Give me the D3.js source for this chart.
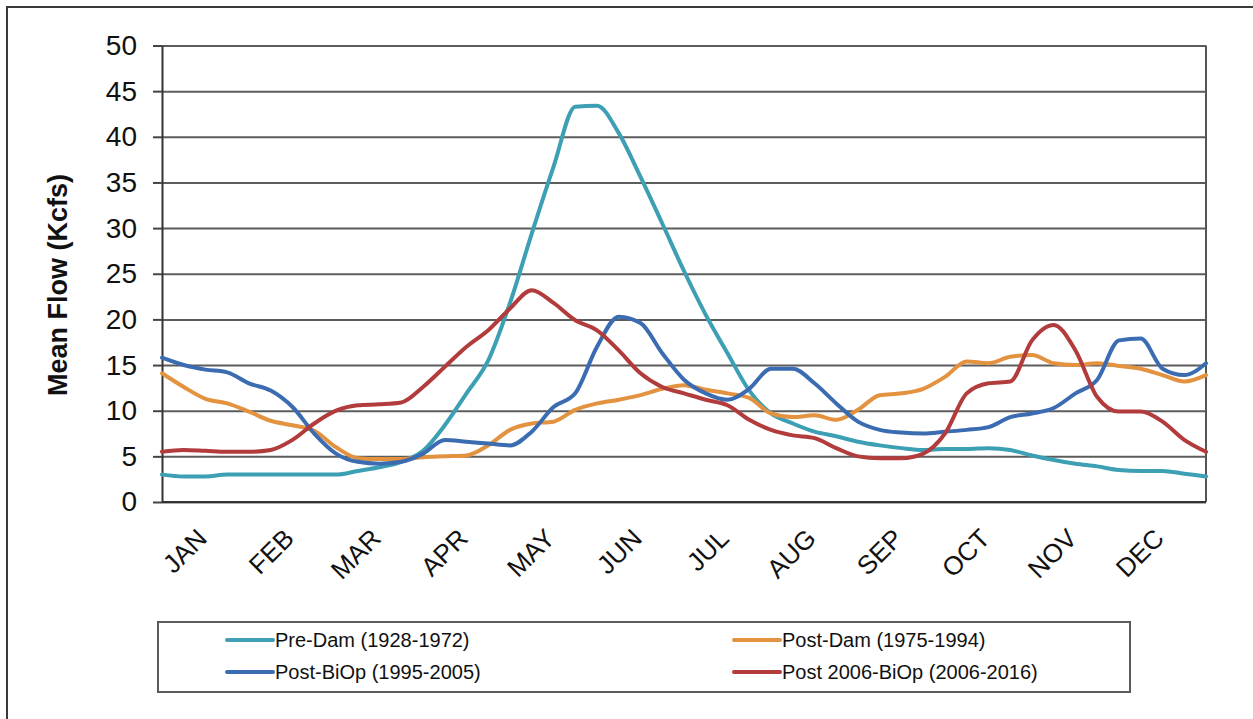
<!DOCTYPE html>
<html>
<head>
<meta charset="utf-8">
<script src="https://cdn.jsdelivr.net/npm/d3@7"></script>
<style>
  html, body { margin: 0; padding: 0; background: #fff; }
  svg { display: block; font-family: "Liberation Sans", Arial, sans-serif; }
</style>
</head>
<body>
<div id="chart"></div>
<script>
// ── Data (x in months from 1 Jan, step 0.25) ──
const monthPos = d3.range(0, 12.001, 0.25);
const monthLabels = ['JAN','FEB','MAR','APR','MAY','JUN','JUL','AUG','SEP','OCT','NOV','DEC'];
const yTicks = [0, 5, 10, 15, 20, 25, 30, 35, 40, 45, 50];

const preDam = [3.0, 2.8, 2.8, 3.0, 3.0, 3.0, 3.0, 3.0, 3.0, 3.4, 3.8, 4.4, 5.6, 8.4, 11.9, 15.5,
  21.8, 29.4, 36.7, 43.3, 43.4, 40.4, 35.6, 30.5, 25.3, 20.5, 16.3, 12.2, 9.7, 8.6, 7.7, 7.2,
  6.6, 6.2, 5.9, 5.7, 5.8, 5.8, 5.9, 5.7, 5.1, 4.6, 4.2, 3.9, 3.5, 3.4, 3.4, 3.1, 2.8];
const postDam = [14.1, 12.6, 11.3, 10.8, 9.9, 8.9, 8.4, 7.8, 6.0, 4.8, 4.7, 4.7, 4.9, 5.0, 5.1, 6.2,
  7.9, 8.6, 8.8, 10.1, 10.8, 11.2, 11.7, 12.4, 12.8, 12.3, 11.9, 11.4, 9.7, 9.3, 9.5, 9.0,
  10.1, 11.7, 11.9, 12.4, 13.7, 15.4, 15.2, 15.9, 16.1, 15.2, 15.0, 15.2, 14.9, 14.6, 13.9, 13.2, 13.9];
const postBiOp = [15.8, 15.0, 14.5, 14.2, 13.0, 12.2, 10.4, 7.5, 5.3, 4.4, 4.2, 4.4, 5.3, 6.8, 6.6, 6.4,
  6.2, 7.7, 10.4, 11.9, 17.0, 20.3, 19.6, 16.3, 13.4, 11.9, 11.2, 12.4, 14.6, 14.6, 13.0, 10.8,
  8.8, 7.9, 7.6, 7.5, 7.7, 7.9, 8.2, 9.3, 9.7, 10.3, 11.9, 13.4, 17.7, 17.9, 14.6, 13.9, 15.2];
const post2006 = [5.5, 5.7, 5.6, 5.5, 5.5, 5.7, 6.8, 8.6, 10.0, 10.6, 10.7, 10.9, 12.6, 14.8, 17.0, 18.8,
  21.2, 23.2, 21.8, 19.9, 18.8, 16.6, 14.1, 12.6, 11.9, 11.2, 10.6, 9.0, 7.9, 7.3, 7.0, 5.9,
  5.0, 4.8, 4.8, 5.3, 7.5, 11.9, 13.0, 13.2, 17.7, 19.4, 16.6, 11.5, 9.9, 9.9, 8.8, 6.8, 5.5];

const seriesNames = ['Pre-Dam (1928-1972)', 'Post-Dam (1975-1994)', 'Post-BiOp (1995-2005)', 'Post 2006-BiOp (2006-2016)'];
const seriesValues = [preDam, postDam, postBiOp, post2006];
const seriesColors = ['#3d9fb3', '#e3923f', '#3b6cb2', '#b23b3c'];

// ── Layout ──
const W = 1253, H = 719;
const plot = { left: 162, right: 1206, top: 45.5, bottom: 502 };

const svg = d3.select('#chart').append('svg').attr('width', W).attr('height', H);

// outer frame (only top and left edges are visible in the crop)
svg.append('path').attr('d', `M7,${H} L7,7 L${W},7`)
  .attr('fill', 'none').attr('stroke', '#3a3a3a').attr('stroke-width', 2);

const x = d3.scaleLinear().domain([0, 12]).range([plot.left, plot.right]);
const y = d3.scaleLinear().domain([0, 50]).range([plot.bottom, plot.top]);

// grid lines + left ticks
const gridAxis = svg.append('g').attr('transform', `translate(${plot.left},0)`)
  .call(d3.axisLeft(y).tickValues(yTicks).tickSizeInner(-(plot.right - plot.left)).tickSizeOuter(0).tickFormat(''));
gridAxis.select('.domain').remove();
gridAxis.selectAll('line').attr('stroke', '#5c5c5c').attr('stroke-width', 2);

const yAxis = svg.append('g').attr('transform', `translate(${plot.left},0)`)
  .call(d3.axisLeft(y).tickValues(yTicks).tickSizeInner(9).tickSizeOuter(0).tickPadding(16));
yAxis.select('.domain').attr('stroke', '#333').attr('stroke-width', 2);
yAxis.selectAll('line').attr('stroke', '#444').attr('stroke-width', 2);
yAxis.selectAll('text').attr('font-size', '28px').attr('fill', '#111')
  .attr('font-family', '"Liberation Sans", Arial, sans-serif');

// right border and bottom axis
svg.append('line').attr('x1', plot.right).attr('x2', plot.right)
  .attr('y1', y(50)).attr('y2', y(0)).attr('stroke', '#555').attr('stroke-width', 2);
svg.append('line').attr('x1', plot.left).attr('x2', plot.right)
  .attr('y1', y(0)).attr('y2', y(0)).attr('stroke', '#333').attr('stroke-width', 2);

// month labels, rotated
svg.append('g').selectAll('text').data(monthLabels).join('text')
  .attr('transform', (d, i) => `translate(${x(i + 0.5) + 3},540) rotate(-45)`)
  .attr('text-anchor', 'end')
  .attr('font-size', '26px').attr('fill', '#111')
  .text(d => d);

// y title
svg.append('text')
  .attr('transform', 'translate(67,285) rotate(-90)')
  .attr('text-anchor', 'middle')
  .attr('font-size', '27px').attr('font-weight', 'bold').attr('fill', '#111')
  .text('Mean Flow (Kcfs)');

// ── Lines ──
const line = d3.line()
  .x((d, i) => x(monthPos[i]))
  .y(d => y(d))
  .curve(d3.curveMonotoneX);

svg.append('g').selectAll('path').data(seriesValues).join('path')
  .attr('d', d => line(d))
  .attr('fill', 'none')
  .attr('stroke', (d, i) => seriesColors[i])
  .attr('stroke-width', 4)
  .attr('stroke-linejoin', 'round')
  .attr('stroke-linecap', 'round');

// ── Legend ──
const legend = svg.append('g');
legend.append('rect').attr('x', 158).attr('y', 622).attr('width', 972).attr('height', 70)
  .attr('fill', '#fff').attr('stroke', '#5a5a5a').attr('stroke-width', 2);

const legPos = [
  { lx: 227, ly: 640 }, { lx: 734, ly: 640 },
  { lx: 227, ly: 672 }, { lx: 734, ly: 672 }
];
const item = legend.selectAll('g.item').data(seriesNames).join('g').attr('class', 'item')
  .attr('transform', (d, i) => `translate(${legPos[i].lx},${legPos[i].ly})`);
item.append('line').attr('x1', 0).attr('x2', 46).attr('y1', 0).attr('y2', 0)
  .attr('stroke', (d, i) => seriesColors[i]).attr('stroke-width', 4).attr('stroke-linecap', 'round');
item.append('text').attr('x', 48).attr('y', 7)
  .attr('font-size', '20px').attr('fill', '#111')
  .text(d => d);
</script>
</body>
</html>
